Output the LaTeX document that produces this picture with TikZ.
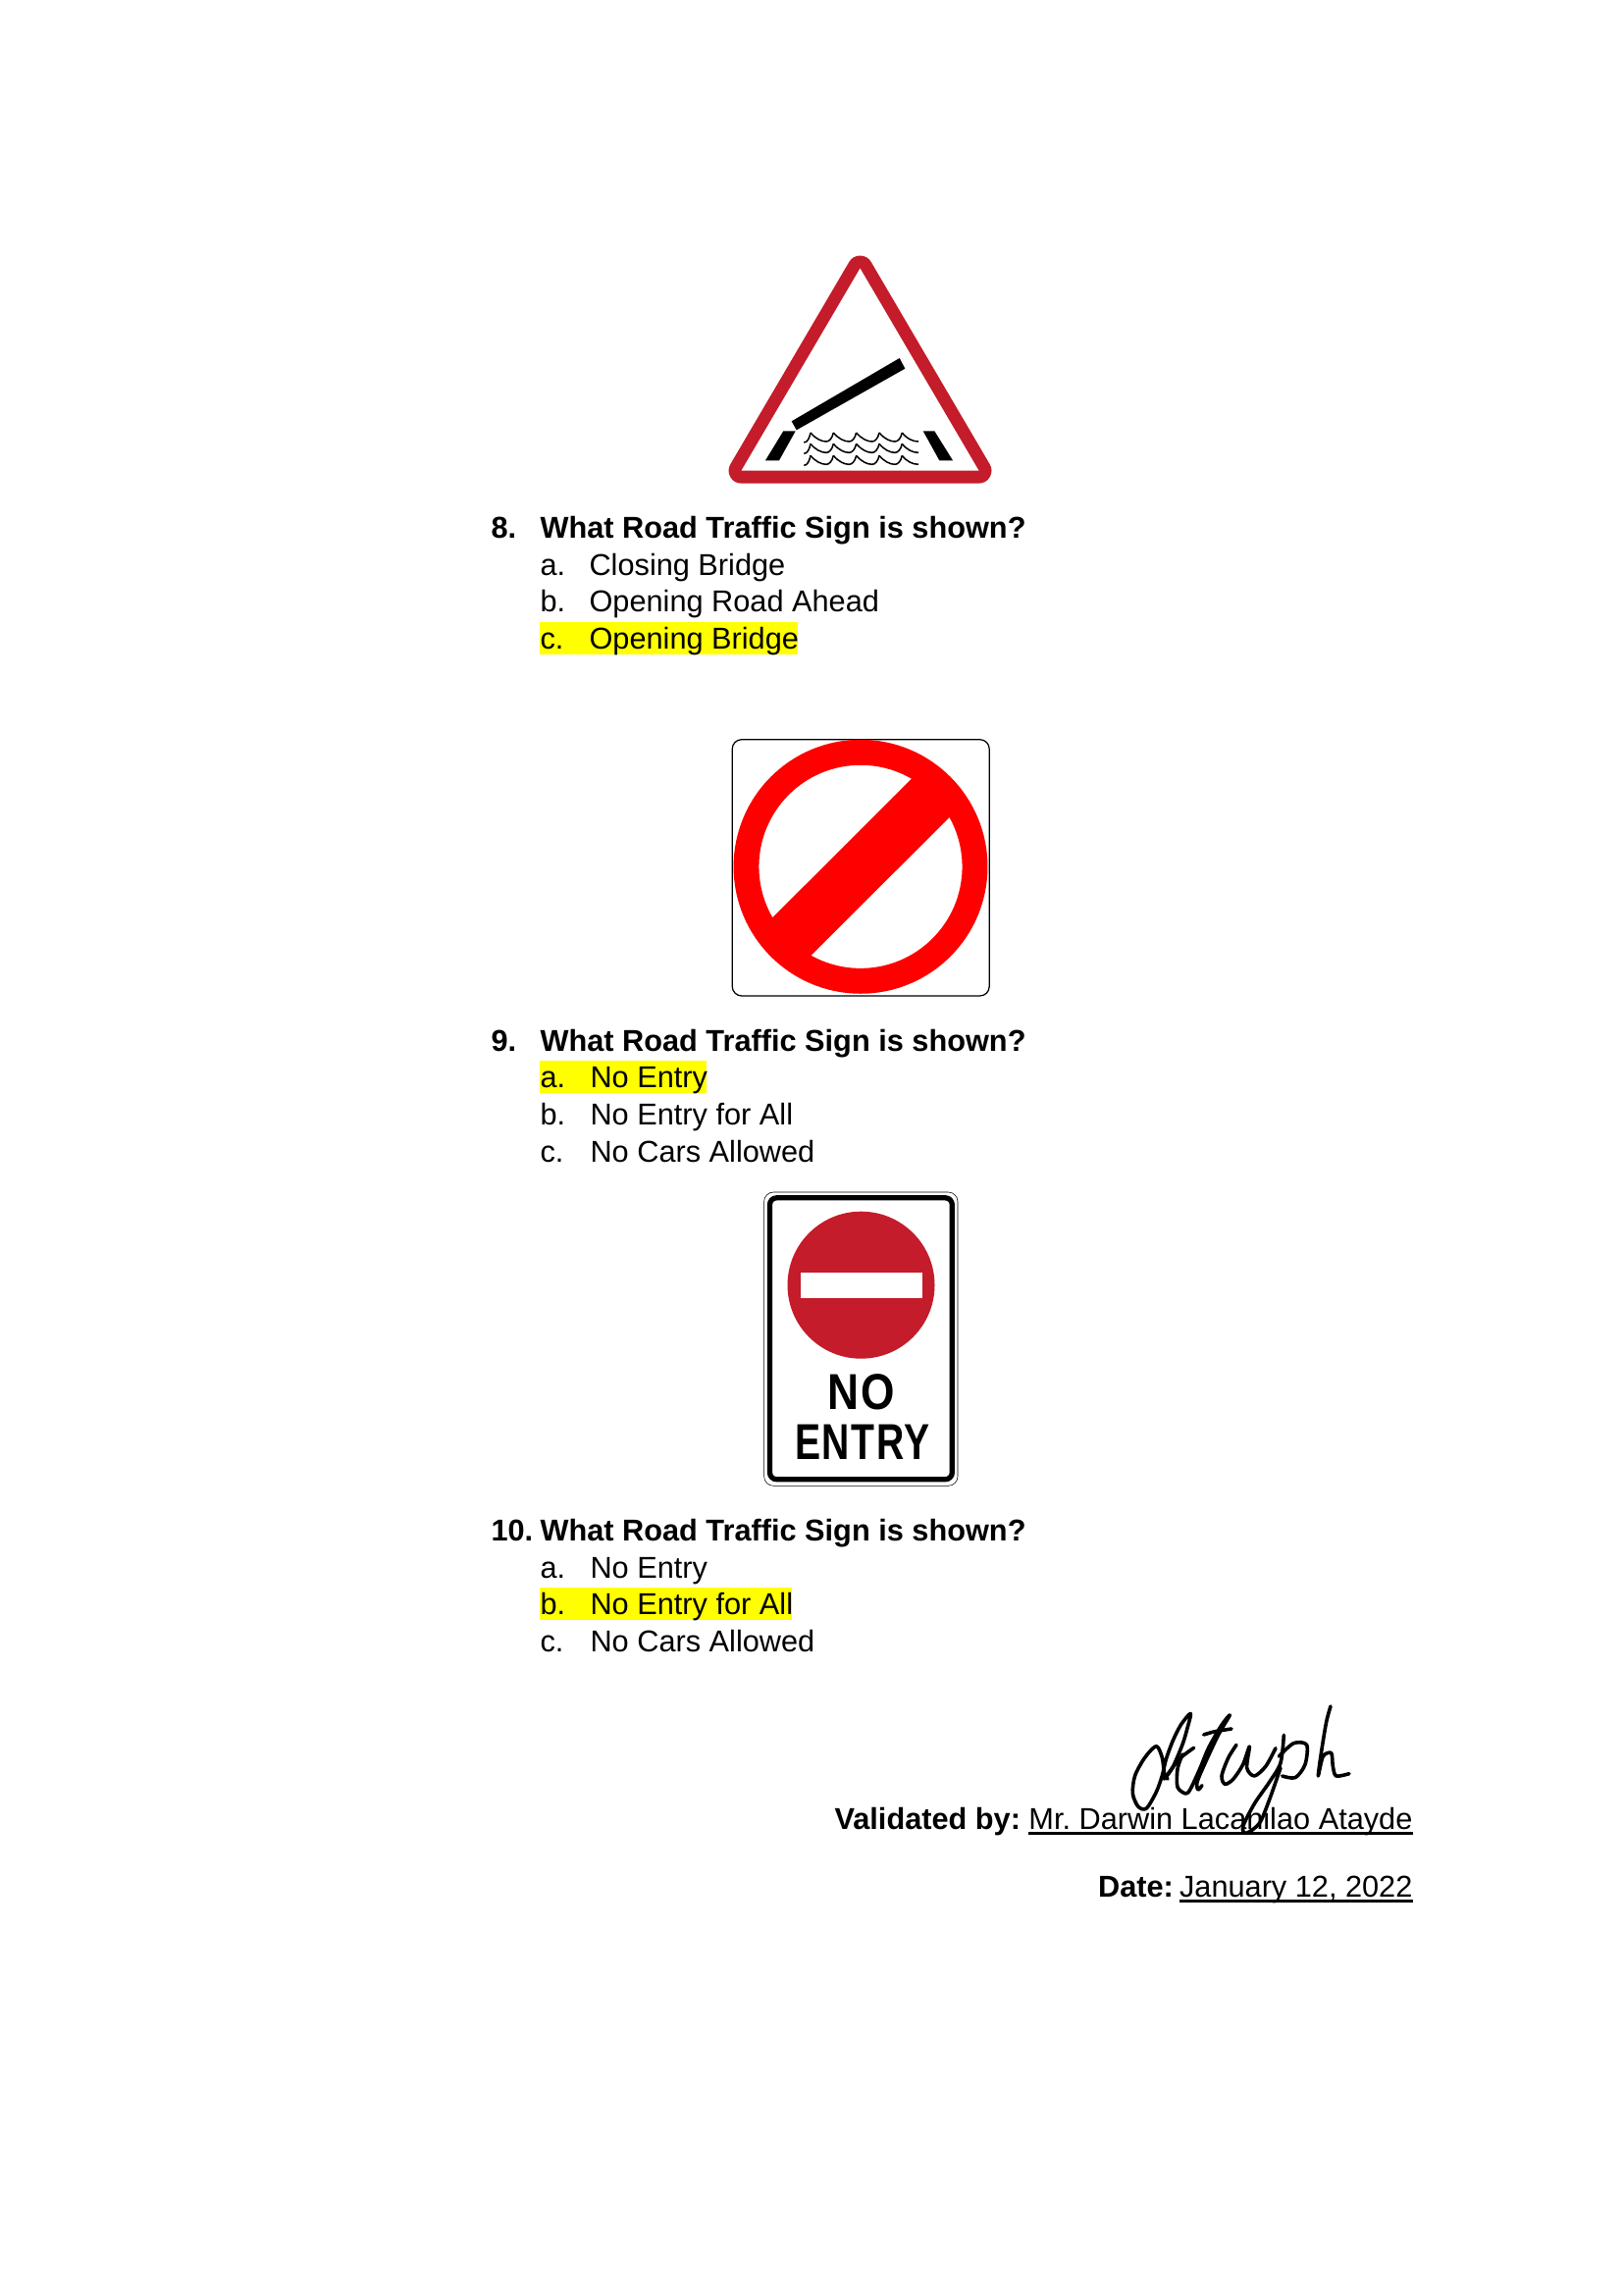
\documentclass[tikz,border=0pt]{standalone}
\usepackage{fontspec}
\setmainfont{Liberation Sans}
\definecolor{signred}{RGB}{196,28,42}
\definecolor{plainred}{RGB}{255,0,0}
\definecolor{marker}{RGB}{255,255,0}
\tikzset{
  question/.style={anchor=base west, inner sep=0pt, font=\fontsize{11.1}{14}\selectfont\bfseries},
  option/.style={anchor=base west, inner sep=0pt, font=\fontsize{11.1}{14}\selectfont},
  signoff/.style={anchor=base east, inner sep=0pt, font=\fontsize{11.1}{14}\selectfont\frenchspacing},
  signhead/.style={anchor=base west, inner sep=0pt, font=\fontsize{11.1}{14}\selectfont\bfseries},
  hilite/.style={fill=marker, draw=none},
  rule/.style={line width=1.05pt, draw=black},
  wave/.style={line width=0.55pt, draw=black},
  pen/.style={line width=1.3pt, draw=black, line cap=round, line join=round},
  platelabel/.style={inner sep=0pt, anchor=base, transform shape,
    font=\fontsize{18.6}{20}\selectfont\bfseries\addfontfeatures{LetterSpace=4}}
}
\begin{document}
\begin{tikzpicture}[x=0.127mm,y=-0.127mm]
  \useasboundingbox (0,0) rectangle (1654,2339);

  % sign 8
  \filldraw[signred, line width=9.36pt, line join=round] (876.5,273.5) -- (755.5,479.7) -- (997.5,479.7) -- cycle;
  \fill[white] (876.5,273.5) -- (755.5,479.7) -- (997.5,479.7) -- cycle;
  \fill[black] (806.7,429.3) -- (916.7,365) -- (922.3,375.7) -- (811.7,438.3) -- cycle;
  \fill[black] (780,469.3) -- (798.3,439.3) -- (810.7,439.3) -- (794,469.3) -- cycle;
  \fill[black] (940.7,439.3) -- (952.3,439.3) -- (971,469.3) -- (957.3,469.3) -- cycle;
  \foreach \rowy in {441,452.3,464.3} {
    \draw[wave] (819.3,\rowy+10) .. controls (823,\rowy+10) and (825,\rowy+5) .. (826,\rowy);
    \foreach \crest in {826,849.3,872.7,896}
      \draw[wave] (\crest,\rowy) .. controls (\crest+5,\rowy+6) and (\crest+11,\rowy+9) .. (\crest+16,\rowy+9)
        .. controls (\crest+19,\rowy+9) and (\crest+22,\rowy+6) .. (\crest+23.3,\rowy);
    \draw[wave] (919.3,\rowy) .. controls (924,\rowy+6) and (930,\rowy+9) .. (936,\rowy+9);
  }

  \fill[hilite] (550,634) rectangle (813,667);
  \node[question] (num8) at (500,548.5) {8.};
  \node[question] (ask8) at (550,548.5) {What Road Traffic Sign is shown?};
  \node[option] (a8) at (550,586.5) {a.};
  \node[option] (a8t) at (600,586.5) {Closing Bridge};
  \node[option] (b8) at (550,623.5) {b.};
  \node[option] (b8t) at (600,623.5) {Opening Road Ahead};
  \node[option] (c8) at (550,661.5) {c.};
  \node[option] (c8t) at (600,661.5) {Opening Bridge};

  % sign 9
  \draw[black, line width=0.45pt, rounded corners=3.5pt] (746.2,753.7) rectangle (1008.2,1015);
  \draw[plainred, line width=9.36pt] (877,883.3) circle [radius=116.5*0.127mm];
  \fill[plainred] (939.7,783) -- (979.3,821.3) -- (814,986.3) -- (774.7,947.7) -- cycle;

  \fill[hilite] (550,1081) rectangle (720,1114);
  \node[question] (num9) at (500,1071.5) {9.};
  \node[question] (ask9) at (550,1071.5) {What Road Traffic Sign is shown?};
  \node[option] (a9) at (550,1108.8) {a.};
  \node[option] (a9t) at (601,1108.8) {No Entry};
  \node[option] (b9) at (550,1146.5) {b.};
  \node[option] (b9t) at (601,1146.5) {No Entry for All};
  \node[option] (c9) at (550,1184) {c.};
  \node[option] (c9t) at (601,1184) {No Cars Allowed};

  % sign 10
  \draw[black, line width=0.2pt, rounded corners=3.5pt] (778.6,1215) rectangle (976,1514.3);
  \draw[black, line width=1.9pt, rounded corners=2.5pt] (784.5,1220.8) rectangle (970.3,1507.7);
  \fill[signred] (877.5,1309.7) circle [radius=75*0.127mm];
  \fill[white] (815.5,1297) rectangle (939.8,1322.7);
  \node[platelabel, xscale=0.86] (plateno) at (878,1436.7) {NO};
  \node[platelabel, xscale=0.76] (plateentry) at (879,1487.3) {ENTRY};

  \fill[hilite] (550,1618) rectangle (807,1651);
  \node[question] (num10) at (500,1570.8) {10.};
  \node[question] (ask10) at (550,1570.8) {What Road Traffic Sign is shown?};
  \node[option] (a10) at (550,1608) {a.};
  \node[option] (a10t) at (601,1608) {No Entry};
  \node[option] (b10) at (550,1645.3) {b.};
  \node[option] (b10t) at (601,1645.3) {No Entry for All};
  \node[option] (c10) at (550,1683) {c.};
  \node[option] (c10t) at (601,1683) {No Cars Allowed};

  % validation
  \node[signoff] (byname) at (1440,1864) {Mr. Darwin Lacanilao Atayde};
  \node[signhead] (bylabel) at (850,1864) {Validated by:};
  \draw[rule] ([yshift=-1.6pt]byname.base west) -- ([yshift=-1.6pt]byname.base east);
  \node[signoff] (dateval) at (1440,1933.5) {January 12, 2022};
  \node[signhead] (datelabel) at (1118.6,1933.5) {Date:};
  \draw[rule] ([yshift=-1.6pt]dateval.base west) -- ([yshift=-1.6pt]dateval.base east);

  % signature
  \begin{scope}[shift={(1145,1738)},x=0.04233mm,y=-0.04233mm]
    \draw[pen] plot[smooth] coordinates {(135,225) (125,210) (118,160) (100,125) (65,160) (35,215) (28,270) (45,310) (70,315) (100,265) (118,215) (130,165) (150,110) (175,60) (205,25) (195,70) (180,120) (150,190) (125,225)};
    \draw[pen] plot[smooth] coordinates {(125,225) (170,165) (215,130)};
    \draw[pen] plot[smooth] coordinates {(180,150) (165,195) (165,250) (190,270) (205,255) (235,190) (260,130) (300,60) (325,30) (290,90) (250,175) (225,235) (228,258) (240,245)};
    \draw[pen] plot[smooth] coordinates {(245,90) (280,80) (330,72)};
  \end{scope}
  \begin{scope}[shift={(1250,1735)},x=0.04233mm,y=-0.04233mm]
    \draw[pen] plot[smooth] coordinates {(30,130) (5,170) (-15,225) (-5,250) (20,235) (50,190) (70,135) (62,200) (85,225) (120,195) (150,140)};
    \draw[pen] plot[smooth] coordinates {(175,100) (165,185) (130,245) (85,310) (50,380) (60,400) (100,370) (130,300) (165,200)};
    \draw[pen] plot[smooth] coordinates {(160,165) (205,125) (245,130) (240,190) (210,230) (170,225)};
    \draw[pen] plot[smooth] coordinates {(318,12) (305,60) (290,150) (280,225) (295,165) (320,155) (325,195) (335,225) (375,218)};
  \end{scope}
\end{tikzpicture}
\end{document}
